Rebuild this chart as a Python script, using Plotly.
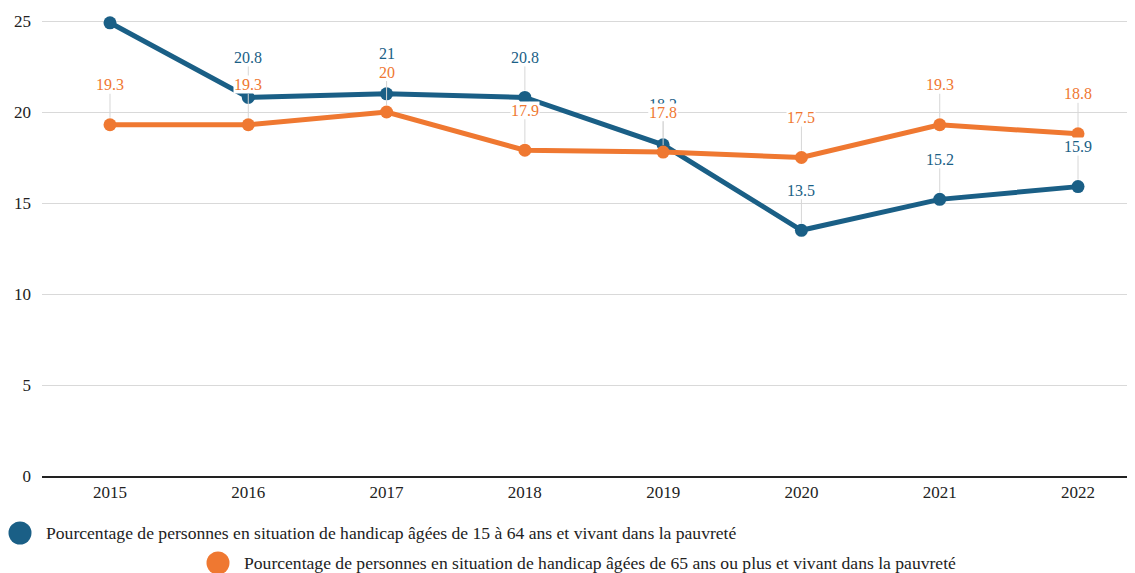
import plotly.graph_objects as go

years = [2015, 2016, 2017, 2018, 2019, 2020, 2021, 2022]
young = [24.9, 20.8, 21, 20.8, 18.2, 13.5, 15.2, 15.9]
old = [19.3, 19.3, 20, 17.9, 17.8, 17.5, 19.3, 18.8]
name_young = "Pourcentage de personnes en situation de handicap âgées de 15 à 64 ans et vivant dans la pauvreté"
name_old = "Pourcentage de personnes en situation de handicap âgées de 65 ans ou plus et vivant dans la pauvreté"

BLUE = "#1a5f86"
ORANGE = "#ef7831"
FONT = "Liberation Serif"

# the page places the figure 8px from the top-left corner of the window
OFF = 8
W, H = 1135 - OFF, 573 - OFF
ML = 42 - OFF
AXIS_Y = 476 - OFF           # y of the x axis in figure pixels
MB = H - AXIS_Y
PH = AXIS_Y
PXU = 18.2                   # pixels per unit on the y axis
YMAX = PH / PXU

fig = go.Figure()
for vals, col, nm in [(young, BLUE, name_young), (old, ORANGE, name_old)]:
    fig.add_trace(go.Scatter(
        x=years, y=vals, mode="lines+markers", name=nm, showlegend=False,
        line=dict(color=col, width=5), marker=dict(color=col, size=13),
        cliponaxis=False, hoverinfo="x+y"))

annotations = []
for vals, col in [(young, BLUE), (old, ORANGE)]:
    for x, v in zip(years, vals):
        if v + 40 / PXU > YMAX:
            continue
        annotations.append(dict(
            x=x, y=v, text=f"{v:g}", showarrow=True, arrowhead=0, arrowwidth=1,
            arrowcolor="#d6d6d6", ax=0, ay=-40, standoff=7,
            font=dict(family=FONT, size=16, color=col), bgcolor="white",
            borderpad=0))

def px2paper(X, Y):
    X, Y = X - OFF, Y - OFF
    return (X - ML) / (W - ML), (PH - Y) / PH

shapes = []
for (cx, cy, col, nm) in [(20, 533, BLUE, name_young), (218, 563, ORANGE, name_old)]:
    px, py = px2paper(cx, cy)
    shapes.append(dict(type="circle", xref="paper", yref="paper",
                       xsizemode="pixel", ysizemode="pixel",
                       xanchor=px, yanchor=py, x0=-11.5, x1=11.5, y0=-11.5, y1=11.5,
                       fillcolor=col, line=dict(width=0)))
    tx, ty = px2paper(cx + 26, cy)
    annotations.append(dict(x=tx, y=ty, xref="paper", yref="paper", text=nm,
                            showarrow=False, xanchor="left", yanchor="middle",
                            borderpad=0, borderwidth=0,
                            font=dict(family=FONT, size=17.6, color="#222222")))

x_left = 2015 - (110 - 42) / 138.3
x_right = 2022 + (1135 - 1078) / 138.3

fig.update_layout(
    width=W, height=H,
    margin=dict(l=ML, r=0, t=0, b=MB, autoexpand=False),
    paper_bgcolor="white", plot_bgcolor="white",
    font=dict(family=FONT, size=17, color="#222222"),
    showlegend=False,
    annotations=annotations, shapes=shapes,
    xaxis=dict(range=[x_left, x_right], tickvals=years, ticktext=[str(y) for y in years],
               showgrid=False, zeroline=False, showline=True, linecolor="#222222",
               linewidth=2, ticks="", ticklabelstandoff=0, automargin=False,
               tickfont=dict(family=FONT, size=17, color="#222222")),
    yaxis=dict(range=[0, YMAX], tickvals=[0, 5, 10, 15, 20, 25], showgrid=True,
               gridcolor="#d9d9d9", gridwidth=1, zeroline=False, showline=False,
               ticks="", ticklabelstandoff=10, automargin=False,
               tickfont=dict(family=FONT, size=17, color="#222222")),
)

fig.write_html("out.html")
